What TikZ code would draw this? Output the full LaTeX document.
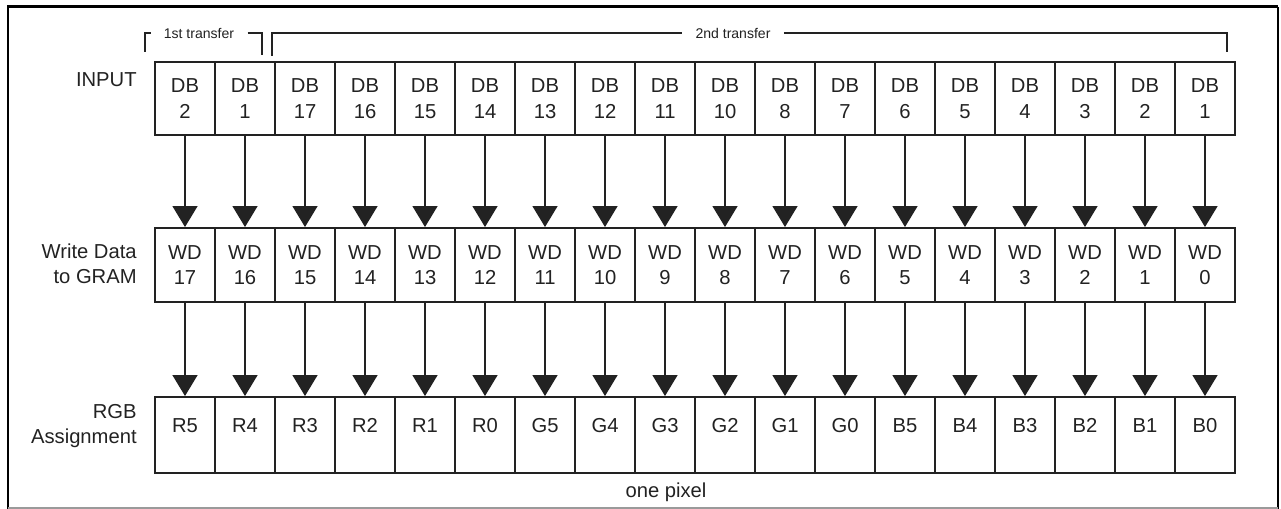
\documentclass[tikz,border=0pt]{standalone}
\usepackage{fontspec}
\setmainfont{Liberation Sans}
\usepackage{xcolor}
\usepackage{tikz}
\usetikzlibrary{arrows.meta}
\definecolor{ink}{HTML}{222222}
\definecolor{rule}{HTML}{9A9A9A}

\tikzset{
  cell/.style={draw=ink, line width=1.1pt, minimum width=1.2cm, minimum height=1.48cm,
               inner sep=0pt, align=center, text=ink, font=\fontsize{11.5}{14.5}\selectfont},
  txt/.style={inner sep=0pt, text=ink, font=\fontsize{11.5}{14}\selectfont},
  lbl/.style={anchor=east, align=right, inner sep=0pt, text=ink, font=\fontsize{11.5}{14}\selectfont},
  tag/.style={inner xsep=0.26cm, inner ysep=0pt, text=ink, font=\fontsize{8}{9}\selectfont},
  bit/.style={draw=ink, line width=0.85pt, -{Triangle[width=0.5cm,length=0.42cm]}},
  brk/.style={draw=ink, line width=1pt}
}

\begin{document}
\begin{tikzpicture}[x=0.02cm, y=-0.02cm]
      \useasboundingbox (0,0) rectangle (1281,509);
      % frame
      \draw[line width=1.7pt] (8,509) -- (8,7) -- (1278,7);
      \draw[line width=1.1pt] (1278,7) -- (1278,509);
      \draw[rule, line width=0.8pt] (8,508) -- (1278,508);
      % row labels
      \node[lbl] (inlab) at (137,80) {INPUT};
      \node[lbl] (wdlab) at (137,264) {Write Data\\to GRAM};
      \node[lbl] (rgblab) at (137,426) {RGB\\Assignment};
      % transfers
      \node[tag] (first) at (199,33) {1st transfer};
      \node[tag] (second) at (733,33) {2nd transfer};
      \draw[brk] (145,52) |- (first.west);
      \draw[brk] (first.east) -| (262,55);
      \draw[brk] (272,56) |- (second.west);
      \draw[brk] (second.east) -| (1227,52);
      % input bits
      \foreach \t [count=\i] in {2,1,17,16,15,14,13,12,11,10,8,7,6,5,4,3,2,1}
        \node[cell, minimum height=1.46cm] (in\i) at ({125+60*\i},98.5) {DB\\\t};
      % gram bits
      \foreach \i in {1,...,18} {
        \pgfmathtruncatemacro{\n}{18-\i}
        \node[cell] (wd\i) at ({125+60*\i},265) {WD\\\n};
        \draw[bit] (in\i) -- (wd\i);
      }
      % rgb bits
      \foreach \t [count=\i] in {R5,R4,R3,R2,R1,R0,G5,G4,G3,G2,G1,G0,B5,B4,B3,B2,B1,B0} {
        \node[cell, minimum height=1.52cm] (rgb\i) at ({125+60*\i},435) {};
        \node[txt, anchor=base] (rgbt\i) at ([yshift=0.06cm]rgb\i.center) {\t};
        \draw[bit] (wd\i) -- (rgb\i);
      }
      \node[txt] (pixel) at (666,492) {one pixel};
    \end{tikzpicture}
\end{document}
